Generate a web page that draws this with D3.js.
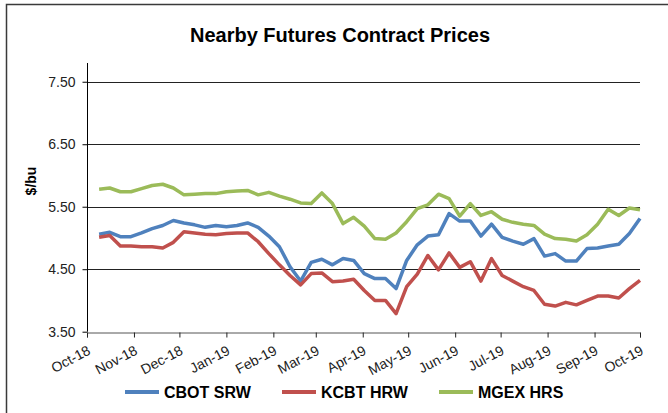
<!DOCTYPE html>
<html>
<head>
<meta charset="utf-8">
<script src="https://cdn.jsdelivr.net/npm/d3@7"></script>
<style>
  body { margin: 0; background: #fff; }
  svg { display: block; font-family: "Liberation Sans", Arial, sans-serif; }
</style>
</head>
<body>
<div id="chart-area"></div>
<script>
// Weekly observation dates (Tuesdays)
const dates = [
    "2018-10-09", "2018-10-16", "2018-10-23", "2018-10-30",
    "2018-11-06", "2018-11-13", "2018-11-20", "2018-11-27",
    "2018-12-04", "2018-12-11", "2018-12-18", "2018-12-25",
    "2019-01-01", "2019-01-08", "2019-01-15", "2019-01-22", "2019-01-29",
    "2019-02-05", "2019-02-12", "2019-02-19", "2019-02-26",
    "2019-03-05", "2019-03-12", "2019-03-19", "2019-03-26",
    "2019-04-02", "2019-04-09", "2019-04-16", "2019-04-23", "2019-04-30",
    "2019-05-07", "2019-05-14", "2019-05-21", "2019-05-28",
    "2019-06-04", "2019-06-11", "2019-06-18", "2019-06-25",
    "2019-07-02", "2019-07-09", "2019-07-16", "2019-07-23", "2019-07-30",
    "2019-08-06", "2019-08-13", "2019-08-20", "2019-08-27",
    "2019-09-03", "2019-09-10", "2019-09-17", "2019-09-24",
    "2019-10-01"
];

const cbotSRW = [
    5.06, 5.09, 5.02, 5.02, 5.08, 5.15, 5.20, 5.28, 5.24, 5.21, 5.17, 5.20,
    5.18, 5.20, 5.24, 5.17, 5.03, 4.86, 4.54, 4.31, 4.61, 4.66, 4.57, 4.67,
    4.64, 4.43, 4.35, 4.35, 4.19, 4.64, 4.89, 5.03, 5.05, 5.39, 5.27, 5.27,
    5.03, 5.22, 5.01, 4.95, 4.90, 4.99, 4.71, 4.75, 4.63, 4.63, 4.83, 4.84,
    4.87, 4.90, 5.07, 5.31
];

const kcbtHRW = [
    5.01, 5.04, 4.87, 4.87, 4.86, 4.86, 4.84, 4.93, 5.10, 5.08, 5.06, 5.05,
    5.07, 5.08, 5.08, 4.94, 4.75, 4.57, 4.40, 4.25, 4.43, 4.44, 4.30, 4.31,
    4.34, 4.16, 4.00, 4.00, 3.79, 4.22, 4.42, 4.72, 4.49, 4.76, 4.53, 4.62,
    4.31, 4.67, 4.40, 4.31, 4.22, 4.16, 3.94, 3.91, 3.97, 3.93, 4.00, 4.07,
    4.07, 4.04, 4.19, 4.32
];

const mgexHRS = [
    5.78, 5.80, 5.74, 5.74, 5.79, 5.84, 5.86, 5.80, 5.69, 5.70, 5.71, 5.71,
    5.74, 5.75, 5.76, 5.69, 5.73, 5.67, 5.62, 5.56, 5.55, 5.72, 5.55, 5.23,
    5.33, 5.19, 4.99, 4.98, 5.08, 5.26, 5.47, 5.53, 5.70, 5.63, 5.35, 5.55,
    5.36, 5.42, 5.30, 5.25, 5.22, 5.20, 5.06, 4.99, 4.98, 4.95, 5.05, 5.22,
    5.46, 5.36, 5.48, 5.45
];

const yTicks = [3.5, 4.5, 5.5, 6.5, 7.5];

const seriesNames = ["CBOT SRW", "KCBT HRW", "MGEX HRS"];
const seriesColors = ["#4F81BD", "#C0504D", "#9BBB59"];

const W = 668, H = 413;
const plotLeft = 87, plotRight = 640, plotTop = 63, plotBottom = 331.7;

const parse = d3.timeParse("%Y-%m-%d");
const days = dates.map(parse);

const series = [cbotSRW, kcbtHRW, mgexHRS].map((vals, k) => ({
    name: seriesNames[k],
    color: seriesColors[k],
    values: vals.map((v, i) => ({ date: days[i], value: v }))
}));

const svg = d3.select("#chart-area")
    .append("svg")
    .attr("width", W)
    .attr("height", H);

// marco exterior
svg.append("rect")
    .attr("x", 6.5).attr("y", 4.5)
    .attr("width", 720).attr("height", 480)
    .attr("fill", "none")
    .attr("stroke", "#3a3a3a")
    .attr("stroke-width", 1.5);

// Escalas
const x = d3.scaleTime()
    .domain([new Date(2018, 9, 1), new Date(2019, 9, 1)])
    .range([plotLeft, plotRight]);

const y = d3.scaleLinear()
    .domain([3.5, 7.8])
    .range([plotBottom, plotTop]);

// Titulo
svg.append("text")
    .attr("x", 340)
    .attr("y", 42)
    .attr("text-anchor", "middle")
    .attr("font-size", "20px")
    .attr("font-weight", "bold")
    .text("Nearby Futures Contract Prices");

// Lineas de cuadricula
svg.append("g")
    .selectAll("line")
    .data(yTicks.slice(1))
    .join("line")
    .attr("x1", plotLeft).attr("x2", plotRight)
    .attr("y1", d => Math.round(y(d)) + 0.5)
    .attr("y2", d => Math.round(y(d)) + 0.5)
    .attr("stroke", "#222");

// Eje Y
const leftAxis = d3.axisLeft(y)
    .tickValues(yTicks)
    .tickSize(5)
    .tickPadding(7)
    .tickFormat(d3.format(".2f"));

const gy = svg.append("g")
    .attr("transform", `translate(${plotLeft + 0.5},0)`)
    .call(leftAxis);
gy.select(".domain").remove();
gy.append("line")
    .attr("x1", 0).attr("x2", 0)
    .attr("y1", plotTop).attr("y2", plotBottom)
    .attr("stroke", "#000");
gy.selectAll(".tick line").attr("stroke", "#000");
gy.selectAll("text")
    .attr("font-size", "14px")
    .attr("fill", "#222")
    .attr("font-family", "Liberation Sans, Arial, sans-serif");

// Etiqueta del eje Y
svg.append("text")
    .attr("transform", "rotate(-90)")
    .attr("x", -181)
    .attr("y", 36)
    .attr("text-anchor", "middle")
    .attr("font-size", "14px")
    .attr("font-weight", "bold")
    .text("$/bu");

// Eje X
const bottomAxis = d3.axisBottom(x)
    .ticks(d3.timeMonth.every(1))
    .tickSize(5)
    .tickFormat(d3.timeFormat("%b-%y"));

const gx = svg.append("g")
    .attr("transform", `translate(0,${Math.round(plotBottom) + 0.5})`)
    .call(bottomAxis);
gx.select(".domain").attr("stroke", "#555");
gx.selectAll(".tick line").attr("stroke", "#222");
gx.selectAll("text")
    .attr("font-size", "14px")
    .attr("fill", "#222")
    .attr("font-family", "Liberation Sans, Arial, sans-serif")
    .attr("text-anchor", "end")
    .attr("dy", null)
    .attr("y", 0)
    .attr("transform", "translate(4,21) rotate(-28)");

// Series
const line = d3.line()
    .x(d => x(d.date))
    .y(d => y(d.value));

svg.append("g")
    .selectAll("path")
    .data(series)
    .join("path")
    .attr("d", d => line(d.values))
    .attr("fill", "none")
    .attr("stroke", d => d.color)
    .attr("stroke-width", 3.5)
    .attr("stroke-linejoin", "round");

// Leyenda
const legendX = [125, 282, 439];
const legend = svg.append("g")
    .selectAll("g")
    .data(series)
    .join("g")
    .attr("transform", (d, i) => `translate(${legendX[i]},392)`);

legend.append("line")
    .attr("x1", 0).attr("x2", 34)
    .attr("stroke", d => d.color)
    .attr("stroke-width", 4);

legend.append("text")
    .attr("x", 39)
    .attr("y", 6)
    .attr("font-size", "16px")
    .attr("font-weight", "bold")
    .text(d => d.name);
</script>
</body>
</html>
